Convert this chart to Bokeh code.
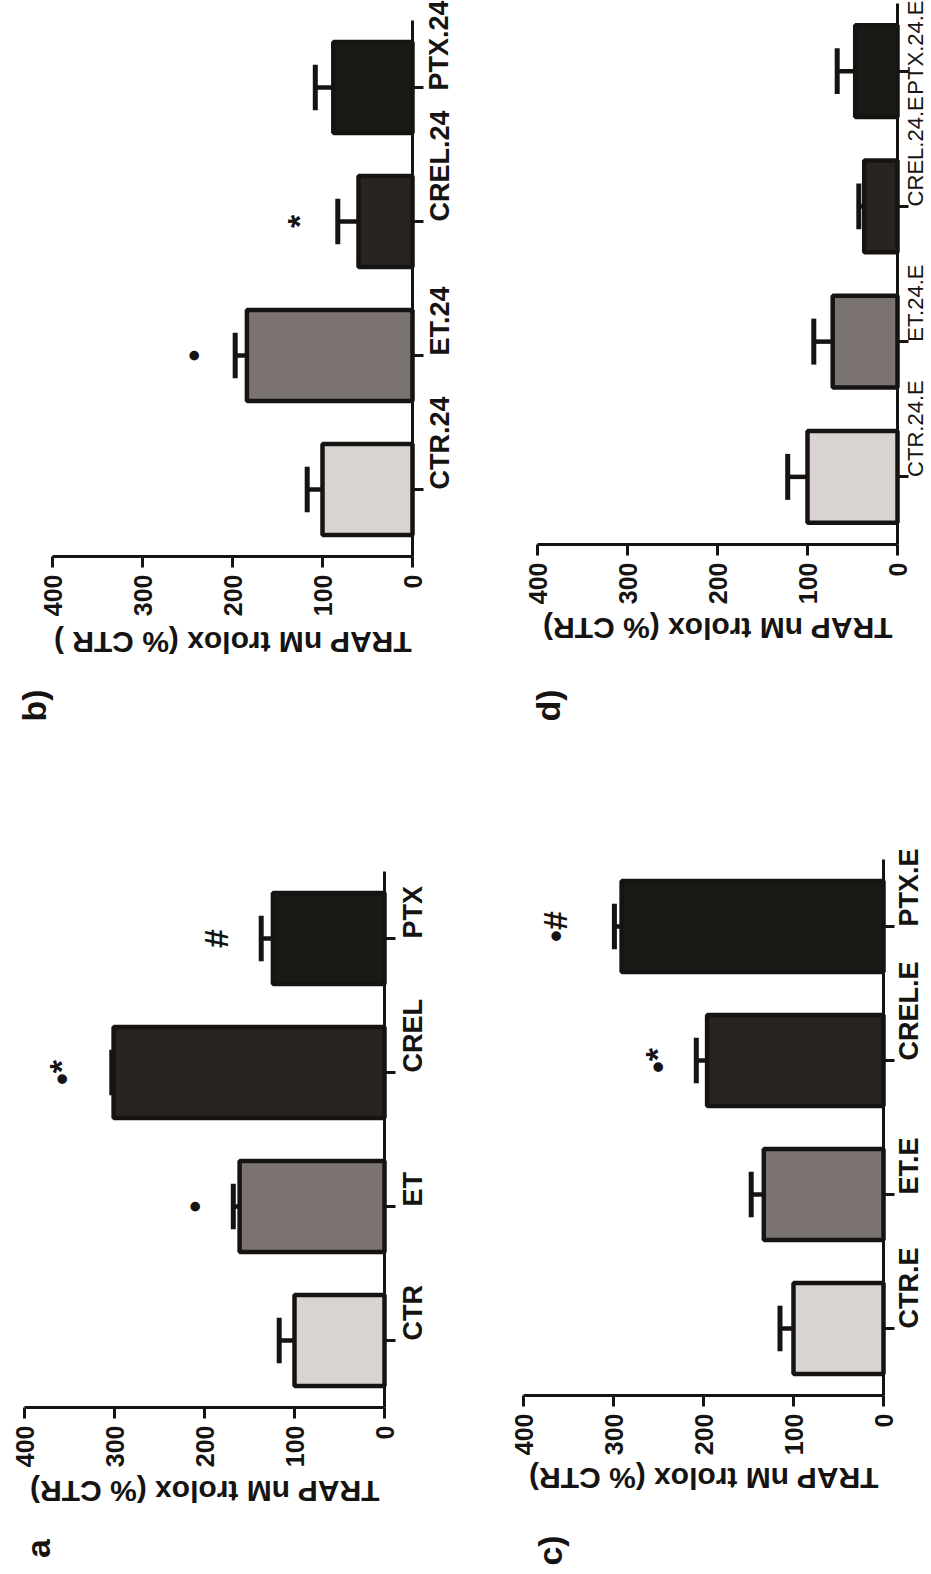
import math
from bokeh.plotting import figure
from bokeh.models import Range1d, ColumnDataSource, FixedTicker
from bokeh.layouts import column, row
from bokeh.core.properties import value
from bokeh.embed import file_html
from bokeh.resources import INLINE

# ---------------- data ----------------
cats_a = ["CTR", "ET", "CREL", "PTX"]
vals_a = [100, 161, 301, 124]
errs_a = [17, 7, 2, 13]
marks_a = ["", "•", "•*", "#"]
mark_at_a = [0, 212, 360, 187]

cats_b = ["CTR.24", "ET.24", "CREL.24", "PTX.24"]
vals_b = [100, 184, 60, 88]
errs_b = [17, 13, 23, 20]
marks_b = ["", "•", "*", ""]
mark_at_b = [0, 244, 126, 0]

cats_c = ["CTR.E", "ET.E", "CREL.E", "PTX.E"]
vals_c = [100, 133, 196, 291]
errs_c = [15, 14, 12, 8]
marks_c = ["", "", "•*", "•#"]
mark_at_c = [0, 0, 252, 365]

cats_d = ["CTR.24.E", "ET.24.E", "CREL.24.E", "PTX.24.E"]
vals_d = [100, 72, 37, 47]
errs_d = [22, 21, 6, 20]
marks_d = ["", "", "", ""]
mark_at_d = [0, 0, 0, 0]

value_ticks = [0, 100, 200, 300, 400]
title_a = "TRAP nM trolox (% CTR)"
title_b = "TRAP nM trolox (% CTR )"
title_c = "TRAP nM trolox (% CTR)"
title_d = "TRAP nM trolox (% CTR)"

bar_colors = ["#d9d4d1", "#7b7370", "#29241f", "#1b1915"]
INK = "#161412"
FONT = "Liberation Sans"
PX_PER_UNIT = 0.9      # pixels per value unit


def panel(cats, vals, errs, marks, mark_at, title, letter, geo,
          cat_standoff=17, cat_font=FONT, cat_style="bold", cat_size="27px"):
    (fx, fy, fw, fh, zero_x, base_y, cat_px, title_off, lx, ly) = geo
    # page-pixel layout -> data ranges
    x_start = (zero_x - fx) / PX_PER_UNIT
    x_end = (zero_x - (fx + fw)) / PX_PER_UNIT
    y_bot = (base_y - (fy + fh)) / cat_px
    y_top = (base_y - fy) / cat_px

    p = figure(x_range=Range1d(x_start, x_end), y_range=Range1d(y_bot, y_top),
               frame_width=fw, frame_height=fh, min_border=0,
               min_border_left=0, min_border_right=0, min_border_top=0, min_border_bottom=0,
               toolbar_location=None, output_backend="svg",
               x_axis_location="below", y_axis_location="right")
    p.outline_line_color = None
    p.grid.visible = False
    p.background_fill_color = "white"
    p.border_fill_color = "white"

    pos = [i + 0.5 for i in range(len(cats))]
    tops = [v + e for v, e in zip(vals, errs)]
    src = ColumnDataSource(dict(pos=pos, val=vals, top=tops, color=bar_colors,
                                lo=[q - 0.17 for q in pos], hi=[q + 0.17 for q in pos]))
    p.segment(x0="val", y0="pos", x1="top", y1="pos", source=src,
              line_width=4.5, line_color=INK)
    p.segment(x0="top", y0="lo", x1="top", y1="hi", source=src,
              line_width=5, line_color=INK)
    p.hbar(y="pos", left=0, right="val", height=0.68, source=src,
           fill_color="color", line_color=INK, line_width=4.5)

    mk = [(q, m, x) for q, m, x in zip(pos, marks, mark_at) if m]
    if mk:
        p.text(x=[t[2] for t in mk], y=[t[0] for t in mk], text=[t[1] for t in mk],
               angle=math.pi / 2, text_align="center", text_baseline="middle",
               text_font=value(FONT), text_font_style="bold",
               text_font_size="34px", text_color=INK)

    # value axis (drawn at the category base line)
    xa = p.xaxis[0]
    xa.fixed_location = 0
    xa.ticker = FixedTicker(ticks=value_ticks)
    xa.bounds = (0, 400)
    xa.major_label_orientation = math.pi / 2
    xa.axis_line_width = 3
    xa.axis_line_color = INK
    xa.major_tick_line_width = 3
    xa.major_tick_line_color = INK
    xa.major_tick_out = 11
    xa.major_tick_in = 0
    xa.minor_tick_out = 0
    xa.minor_tick_in = 0
    xa.major_label_standoff = 7
    xa.major_label_text_font = FONT
    xa.major_label_text_font_style = "bold"
    xa.major_label_text_font_size = "25px"
    xa.major_label_text_color = INK

    # category axis (drawn at value 0)
    ya = p.yaxis[0]
    ya.fixed_location = 0
    ya.ticker = FixedTicker(ticks=pos)
    ya.major_label_overrides = {q: c for q, c in zip(pos, cats)}
    ya.bounds = (0, len(cats))
    ya.major_label_orientation = math.pi / 2
    ya.axis_line_width = 3
    ya.axis_line_color = INK
    ya.major_tick_line_width = 3
    ya.major_tick_line_color = INK
    ya.major_tick_out = 11
    ya.major_tick_in = 0
    ya.minor_tick_out = 0
    ya.minor_tick_in = 0
    ya.major_label_standoff = cat_standoff
    ya.major_label_text_font = cat_font
    ya.major_label_text_font_style = cat_style
    ya.major_label_text_font_size = cat_size
    ya.major_label_text_color = INK

    # axis title (upside down) and panel letter
    p.text(x=[200], y=[-title_off / cat_px], text=[title], angle=math.pi,
           text_align="center", text_baseline="middle",
           text_font=value(FONT), text_font_style="bold",
           text_font_size="30px", text_color=INK)
    p.text(x=[(zero_x - lx) / PX_PER_UNIT], y=[(base_y - ly) / cat_px], text=[letter],
           angle=math.pi / 2, text_align="center", text_baseline="middle",
           text_font=value(FONT), text_font_style="bold",
           text_font_size="34px", text_color=INK)
    return p


LW, RW = 455, 476      # column widths
H1, H2 = 740, 832      # row heights

# geo: fig x, fig y, fig w, fig h, x of value 0, y of category base, px per category,
#      title offset below base, letter x, letter y   (page pixels)
pb = panel(cats_b, vals_b, errs_b, marks_b, mark_at_b, title_b, "b)",
           (0, 0, LW, H1, 412, 556, 134, 86, 33, 705), cat_standoff=16)
pd = panel(cats_d, vals_d, errs_d, marks_d, mark_at_d, title_d, "d)",
           (LW, 0, RW, H1, 897, 544, 135.25, 84, 547, 705), cat_standoff=7,
           cat_font="Liberation Sans Narrow, Liberation Sans", cat_style="normal",
           cat_size="22px")
pa = panel(cats_a, vals_a, errs_a, marks_a, mark_at_a, title_a, "a",
           (0, H1, LW, H2, 384, 1407, 134, 84, 37, 1548), cat_standoff=17)
pc = panel(cats_c, vals_c, errs_c, marks_c, mark_at_c, title_c, "c)",
           (LW, H1, RW, H2, 883, 1395, 134, 83, 549, 1550), cat_standoff=14)

layout = column(row(pb, pd), row(pa, pc))
open("out.html", "w").write(file_html(layout, INLINE))
